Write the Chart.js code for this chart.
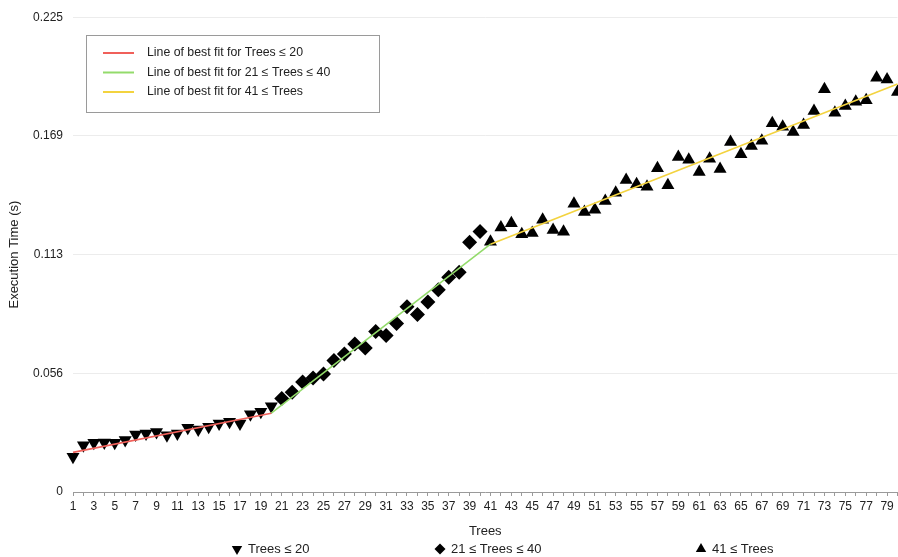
<!DOCTYPE html>
<html>
<head>
<meta charset="utf-8">
<title>Execution Time vs Trees</title>
<script src="https://cdn.jsdelivr.net/npm/chart.js@4.4.1/dist/chart.umd.min.js"></script>
<style>
  html, body { margin: 0; padding: 0; background: #ffffff; overflow: hidden; }
  #wrap { width: 898px; height: 557px; position: relative; overflow: hidden; }
  #chart { position: absolute; left: 0; top: 0; }
</style>
</head>
<body>
<div id="wrap"><canvas id="chart" width="905" height="557"></canvas></div>
<script>
// Measured execution times, grouped by forest size
const treesLow = [1, 2, 3, 4, 5, 6, 7, 8, 9, 10, 11, 12, 13, 14, 15, 16, 17, 18, 19, 20];
const timesLow = [0.0167, 0.0222, 0.0233, 0.0235, 0.0233, 0.0246, 0.0273, 0.0277, 0.0284, 0.0269,
                  0.0277, 0.0304, 0.0296, 0.0309, 0.0325, 0.0333, 0.0325, 0.0369, 0.0380, 0.0406];

const treesMid = [21, 22, 23, 24, 25, 26, 27, 28, 29, 30, 31, 32, 33, 34, 35, 36, 37, 38, 39, 40];
const timesMid = [0.0443, 0.0473, 0.0521, 0.0540, 0.0559, 0.0623, 0.0654, 0.0701, 0.0682, 0.0760,
                  0.0742, 0.0799, 0.0878, 0.0841, 0.0900, 0.0958, 0.1018, 0.1041, 0.1183, 0.1235];

const treesHigh = [41, 42, 43, 44, 45, 46, 47, 48, 49, 50, 51, 52, 53, 54, 55, 56, 57, 58, 59, 60,
                   61, 62, 63, 64, 65, 66, 67, 68, 69, 70, 71, 72, 73, 74, 75, 76, 77, 78, 79, 80];
const timesHigh = [0.1186, 0.1253, 0.1274, 0.1221, 0.1227, 0.1290, 0.1242, 0.1233, 0.1366, 0.1327,
                   0.1337, 0.1379, 0.1418, 0.1479, 0.1458, 0.1446, 0.1534, 0.1454, 0.1588, 0.1574,
                   0.1517, 0.1579, 0.1531, 0.1659, 0.1600, 0.1640, 0.1664, 0.1747, 0.1731, 0.1706,
                   0.1739, 0.1805, 0.1908, 0.1797, 0.1829, 0.1849, 0.1857, 0.1963, 0.1955, 0.1895];

// Piecewise lines of best fit (end points)
const fitLowX = [1, 20];
const fitLowY = [0.01877, 0.03734];
const fitMidX = [20, 41];
const fitMidY = [0.03734, 0.11746];
const fitHighX = [41, 80];
const fitHighY = [0.11746, 0.1933];

// Axis settings
const xMin = 1;
const xMax = 80;
const yMax = 0.225;
const yStep = 0.05625;
const yTickLabels = ['0', '0.056', '0.113', '0.169', '0.225'];

const fitLabels = ['Line of best fit for Trees \u2264 20',
                   'Line of best fit for 21 \u2264 Trees \u2264 40',
                   'Line of best fit for 41 \u2264 Trees'];
const groupLabels = ['Trees \u2264 20', '21 \u2264 Trees \u2264 40', '41 \u2264 Trees'];

const RED = '#f0605a';
const GREEN = '#93db6b';
const YELLOW = '#f3d33f';
const FONT = "'Liberation Sans', Arial, Helvetica, sans-serif";
const TEXT = '#222222';

const toPoints = (xs, ys) => xs.map((x, i) => ({ x: x, y: ys[i] }));

function markerPath(ctx, style, x, y, r) {
  ctx.beginPath();
  if (style === 'down') {
    ctx.moveTo(x, y + r);
    ctx.lineTo(x - r * 0.866, y - r * 0.5);
    ctx.lineTo(x + r * 0.866, y - r * 0.5);
  } else if (style === 'up') {
    ctx.moveTo(x, y - r);
    ctx.lineTo(x - r * 0.866, y + r * 0.5);
    ctx.lineTo(x + r * 0.866, y + r * 0.5);
  } else {
    ctx.moveTo(x, y - r);
    ctx.lineTo(x + r, y);
    ctx.lineTo(x, y + r);
    ctx.lineTo(x - r, y);
  }
  ctx.closePath();
}

// Boxed legend for the fit lines plus the marker key under the x axis title
const legendsPlugin = {
  id: 'legends',
  afterDraw(chart) {
    const ctx = chart.ctx;
    ctx.save();
    // boxed legend, upper left
    ctx.fillStyle = '#ffffff';
    ctx.fillRect(86.5, 35.5, 293, 77);
    ctx.strokeStyle = '#9a9a9a';
    ctx.lineWidth = 1;
    ctx.strokeRect(86.5, 35.5, 293, 77);
    const colors = [RED, GREEN, YELLOW];
    const rows = [53, 72.5, 92];
    ctx.font = '12.3px ' + FONT;
    ctx.textBaseline = 'middle';
    ctx.textAlign = 'left';
    rows.forEach((ry, i) => {
      ctx.strokeStyle = colors[i];
      ctx.lineWidth = 2;
      ctx.beginPath();
      ctx.moveTo(103, ry);
      ctx.lineTo(134, ry);
      ctx.stroke();
      ctx.fillStyle = TEXT;
      ctx.fillText(fitLabels[i], 147, ry);
    });
    // marker key
    const styles = ['down', 'diamond', 'up'];
    const mx = [237, 440, 701];
    const ky = 549;
    ctx.font = '13px ' + FONT;
    styles.forEach((s, i) => {
      ctx.fillStyle = '#000000';
      markerPath(ctx, s, mx[i], ky, s === 'diamond' ? 5.5 : 6);
      ctx.fill();
      ctx.fillStyle = TEXT;
      ctx.fillText(groupLabels[i], mx[i] + 11, ky);
    });
    ctx.restore();
  }
};

const chart = new Chart(document.getElementById('chart'), {
  type: 'scatter',
  data: {
    datasets: [
      { label: fitLabels[0], type: 'line', data: toPoints(fitLowX, fitLowY), borderColor: RED,
        borderWidth: 1.6, pointRadius: 0, fill: false, tension: 0, clip: false },
      { label: fitLabels[1], type: 'line', data: toPoints(fitMidX, fitMidY), borderColor: GREEN,
        borderWidth: 1.6, pointRadius: 0, fill: false, tension: 0, clip: false },
      { label: fitLabels[2], type: 'line', data: toPoints(fitHighX, fitHighY), borderColor: YELLOW,
        borderWidth: 1.6, pointRadius: 0, fill: false, tension: 0, clip: false },
      { label: groupLabels[0], data: toPoints(treesLow, timesLow), pointStyle: 'triangle', rotation: 180,
        pointRadius: 7.5, backgroundColor: '#000000', borderColor: '#000000', borderWidth: 0, clip: false },
      { label: groupLabels[1], data: toPoints(treesMid, timesMid), pointStyle: 'rectRot',
        pointRadius: 7.5, backgroundColor: '#000000', borderColor: '#000000', borderWidth: 0, clip: false },
      { label: groupLabels[2], data: toPoints(treesHigh, timesHigh), pointStyle: 'triangle',
        pointRadius: 7.5, backgroundColor: '#000000', borderColor: '#000000', borderWidth: 0, clip: false }
    ]
  },
  options: {
    responsive: false,
    animation: false,
    devicePixelRatio: 1,
    layout: { padding: { top: 17, right: 0, bottom: 17, left: 0 } },
    plugins: { legend: { display: false }, tooltip: { enabled: false } },
    scales: {
      x: {
        type: 'linear',
        min: xMin,
        max: xMax,
        ticks: {
          stepSize: 1,
          autoSkip: false,
          maxTicksLimit: 200,
          maxRotation: 0,
          minRotation: 0,
          padding: 3,
          color: TEXT,
          font: { family: FONT, size: 12 },
          callback: (v) => (Math.round(v) % 2 === 1 ? String(Math.round(v)) : '')
        },
        grid: { drawOnChartArea: false, drawTicks: true, tickLength: 4, color: '#9a9a9a' },
        border: { color: '#9a9a9a', width: 1 },
        title: { display: true, text: 'Trees', color: TEXT, font: { family: FONT, size: 13 },
                 padding: { top: 0, bottom: 1 } },
        afterFit: (s) => { s.height = 48; }
      },
      y: {
        type: 'linear',
        min: 0,
        max: yMax,
        ticks: {
          stepSize: yStep,
          padding: 10,
          color: TEXT,
          font: { family: FONT, size: 12 },
          callback: (v) => yTickLabels[Math.round(v / yStep)]
        },
        grid: { color: '#ececec', drawTicks: false },
        border: { display: false },
        title: { display: true, text: 'Execution Time (s)', color: TEXT, font: { family: FONT, size: 13 },
                 padding: { top: 7, bottom: 0 } },
        afterFit: (s) => { s.width = 73; }
      }
    }
  },
  plugins: [legendsPlugin]
});
</script>
</body>
</html>
